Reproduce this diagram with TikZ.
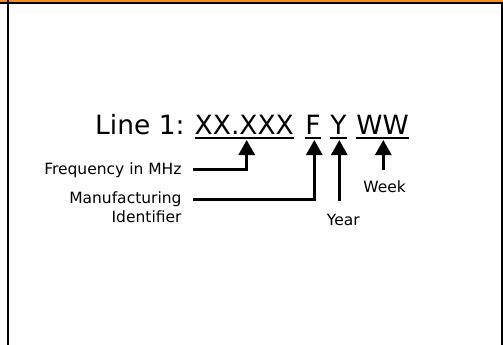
\documentclass[tikz,border=0pt]{standalone}
\usepackage{fontspec}
\setmainfont{DejaVu Sans}
\usetikzlibrary{arrows.meta}
\definecolor{framorange}{RGB}{245,140,40}
\begin{document}
\begin{tikzpicture}[x=1pt,y=-1pt,
  big/.style={inner sep=0pt, font=\fontsize{26.5}{32}\selectfont},
  small/.style={inner sep=0pt, font=\fontsize{15.5}{19}\selectfont},
  uline/.style={line width=2pt},
  pointer/.style={line width=2.7pt, -{Triangle[length=15pt,width=16pt]}}]
\useasboundingbox (0,0) rectangle (503,345);
% frame
\fill[framorange] (0,0) rectangle (503,2.3);
\draw[line width=1.2pt] (0,3) -- (503,3);
\draw[line width=2.2pt] (7.7,0) -- (7.7,345);
\draw[line width=2pt] (502,3) -- (502,345);
% main line
\node[big, anchor=base west] (lbl) at (95,134) {Line 1:};
\node[big, anchor=base] (xx) at (244.3,134) {XX.XXX};
\node[big, anchor=base] (ff) at (312.9,134) {F};
\node[big, anchor=base] (yy) at (338.4,134) {Y};
\node[big, anchor=base] (ww) at (382.5,134) {WW};
\foreach \n in {xx,ff,yy,ww}
  \draw[uline] ([yshift=-4pt]\n.base west) -- ([yshift=-4pt]\n.base east);
% labels
\node[small, anchor=base east] (ftxt) at (181.7,174.5) {Frequency in MHz};
\node[small, anchor=base east] (mtxt) at (181.7,203.5) {Manufacturing};
\node[small, anchor=base east] (itxt) at (181.7,222.3) {Identifier};
\node[small, anchor=base] (wtxt) at (384.7,192.7) {Week};
\node[small, anchor=base] (ytxt) at (343.3,225) {Year};
% connector ends
\coordinate (fstart) at (192.7,169.3);
\coordinate (mstart) at (192.7,199.3);
\coordinate (ystart) at (339.3,201);
\coordinate (wstart) at (383.3,170);
\coordinate (tipx) at (246.7,140);
\coordinate (tipf) at (314.3,140);
\coordinate (tipy) at (339.3,140);
\coordinate (tipw) at (383.3,140);
\draw[pointer] (fstart) -| (tipx);
\draw[pointer] (mstart) -| (tipf);
\draw[pointer] (ystart) -- (tipy);
\draw[pointer] (wstart) -- (tipw);
\end{tikzpicture}
\end{document}
